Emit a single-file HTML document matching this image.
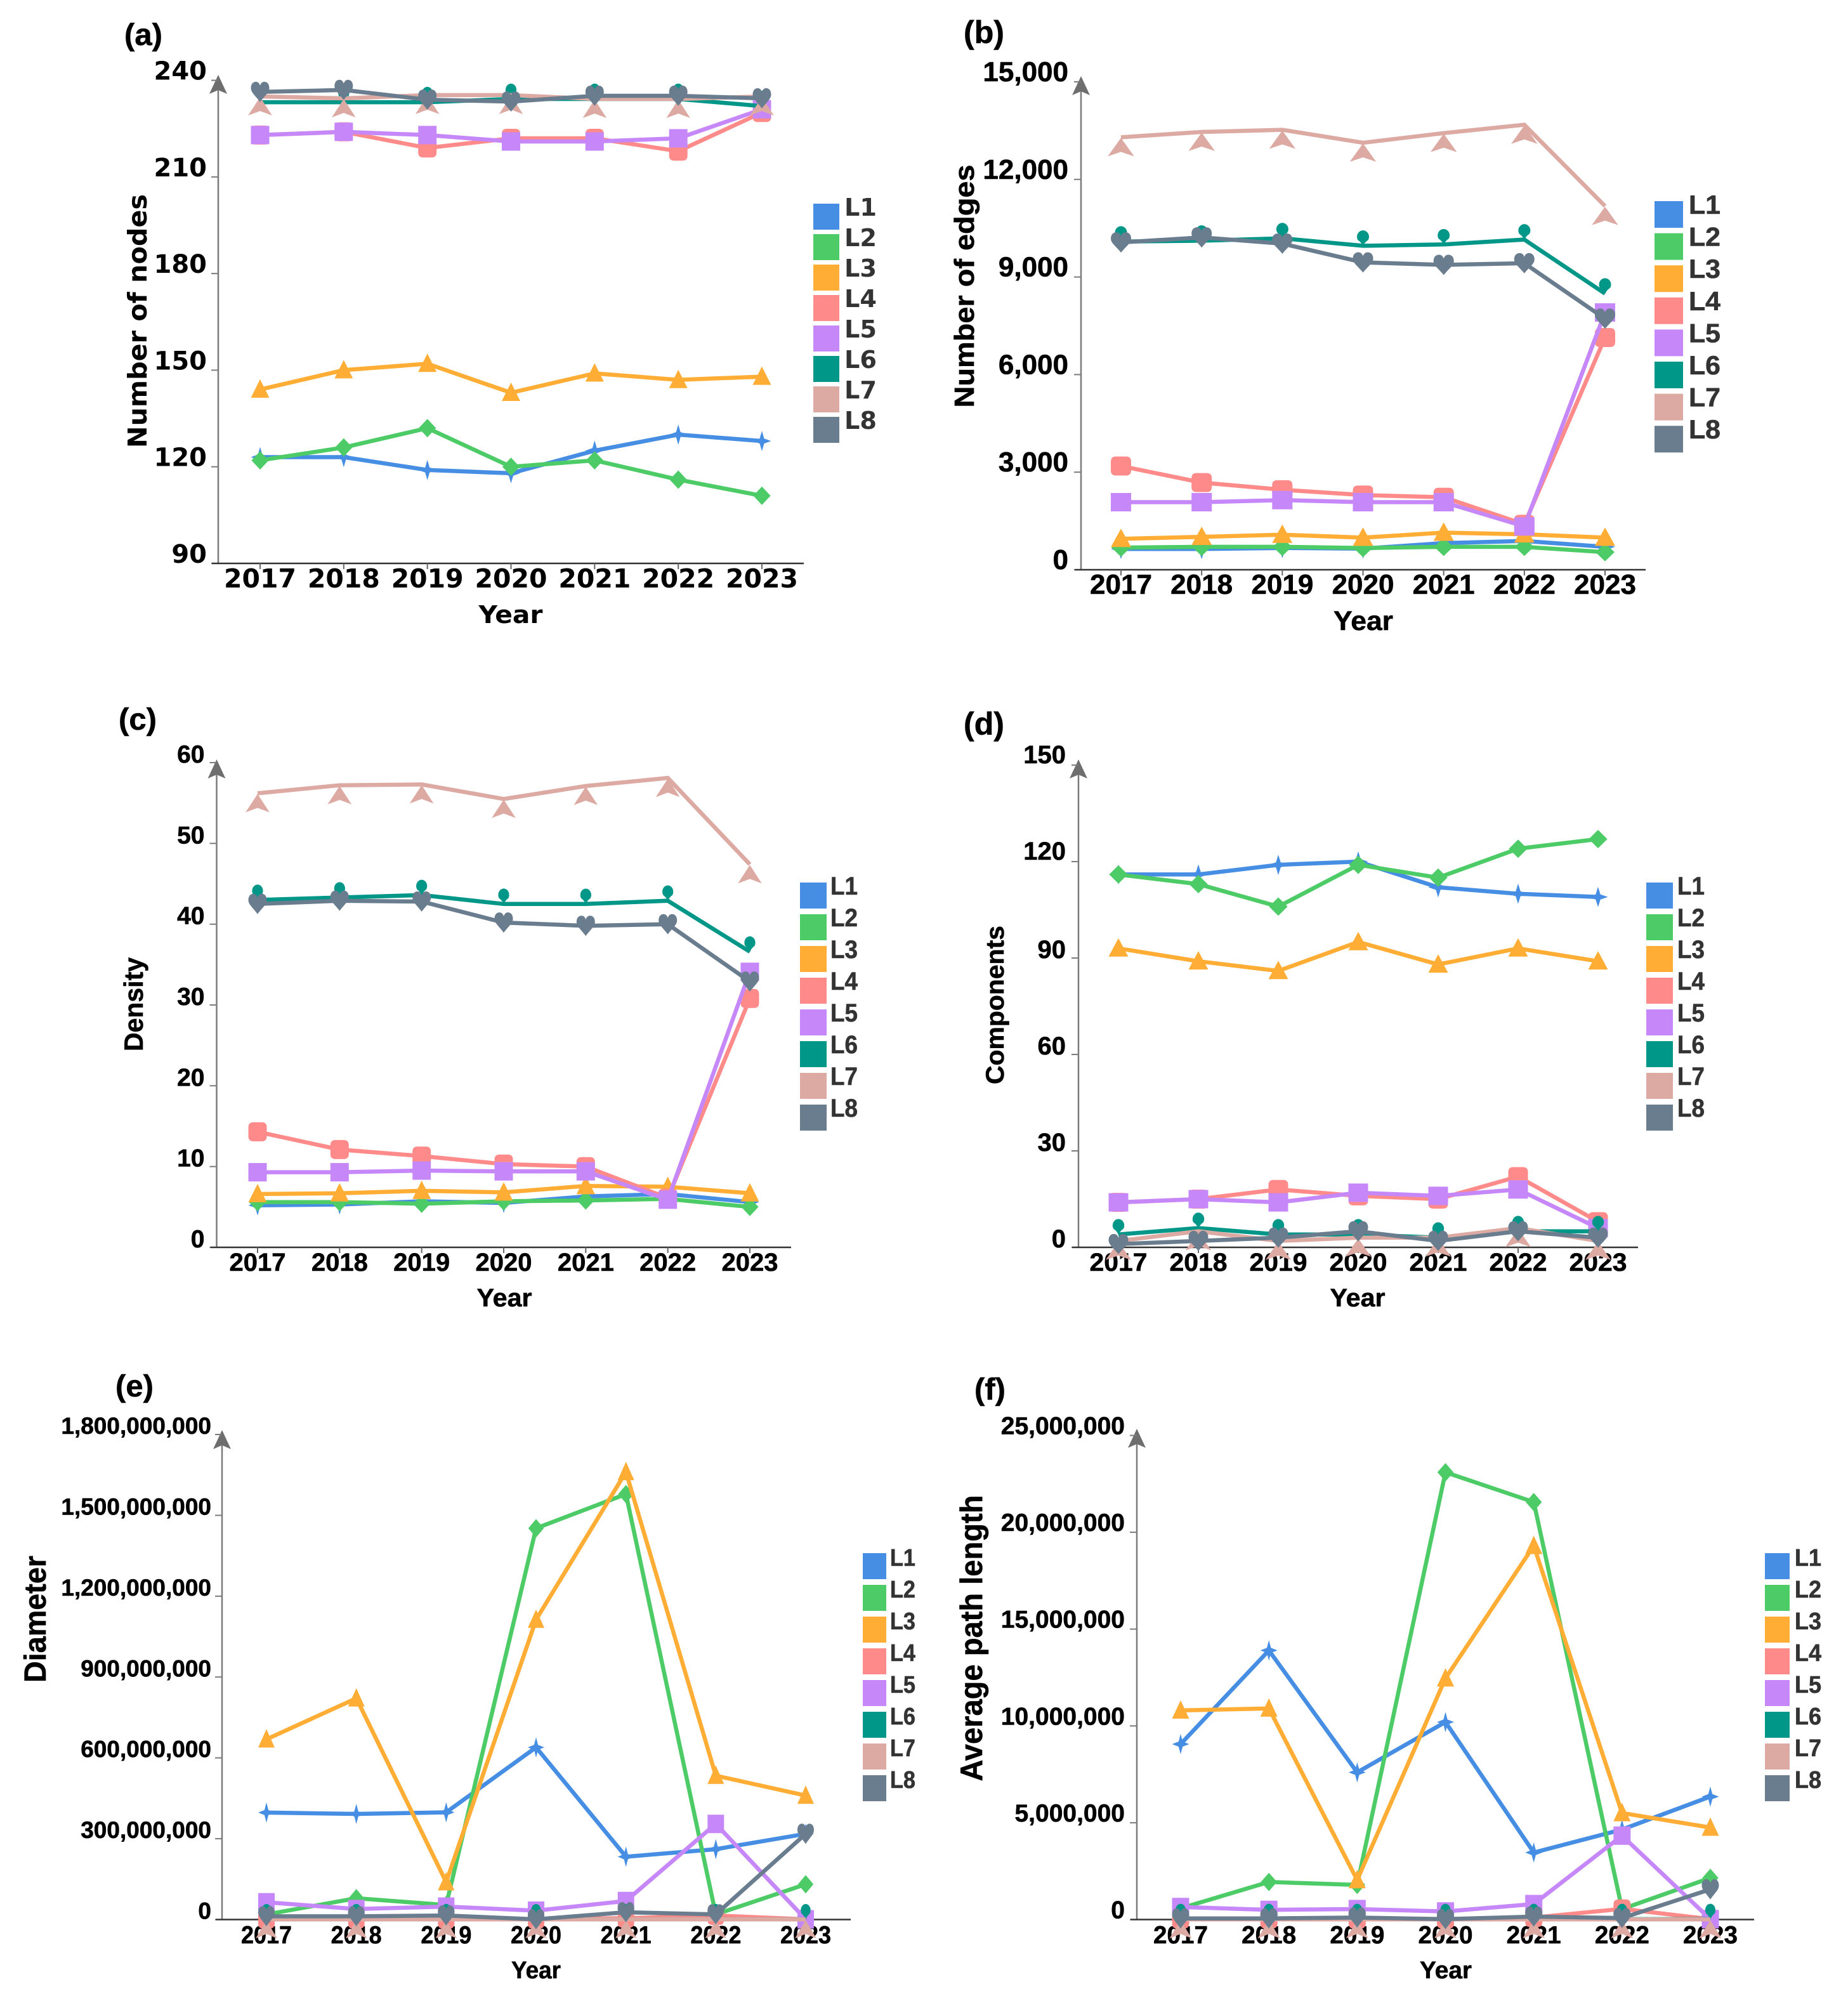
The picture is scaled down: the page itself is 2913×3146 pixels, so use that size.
<!DOCTYPE html>
<html lang="en">
<head>
<meta charset="utf-8">
<title>Network metrics by layer, 2017–2023</title>
<style>
  html, body { margin: 0; padding: 0; background: #fff; }
  svg { display: block; }
  .dj { font-family: "DejaVu Sans", sans-serif; font-weight: 700; }
  .lb { font-family: "Liberation Sans", sans-serif; font-weight: 700; stroke: #000; stroke-width: 0.6; }
  .lb.legend-text { stroke: #333; }
</style>
</head>
<body>
<svg id="figure" xmlns="http://www.w3.org/2000/svg" width="2913" height="3146" viewBox="0 0 2913 3146">
  <rect x="0" y="0" width="2913" height="3146" fill="#ffffff"/>

  <g id="panel-a">
    <text class="lb" x="196" y="71" font-size="48" textLength="60" lengthAdjust="spacingAndGlyphs">(a)</text>
    <text class="dj" font-size="41" text-anchor="middle" transform="translate(231 506) rotate(-90)" textLength="400" lengthAdjust="spacingAndGlyphs">Number of nodes</text>
    <text class="dj" x="805" y="982" font-size="38" text-anchor="middle" textLength="101" lengthAdjust="spacingAndGlyphs">Year</text>
  </g>
  <g id="panel-b">
    <text class="lb" x="1519" y="68" font-size="50" textLength="64" lengthAdjust="spacingAndGlyphs">(b)</text>
    <text class="lb" font-size="44" text-anchor="middle" transform="translate(1535 451) rotate(-90)" textLength="383" lengthAdjust="spacingAndGlyphs">Number of edges</text>
    <text class="lb" x="2149" y="993" font-size="43" text-anchor="middle" textLength="94" lengthAdjust="spacingAndGlyphs">Year</text>
  </g>
  <g id="panel-c">
    <text class="lb" x="187" y="1150" font-size="48" textLength="60" lengthAdjust="spacingAndGlyphs">(c)</text>
    <text class="lb" font-size="42" text-anchor="middle" transform="translate(225 1583) rotate(-90)" textLength="148" lengthAdjust="spacingAndGlyphs">Density</text>
    <text class="lb" x="795" y="2059" font-size="40" text-anchor="middle" textLength="87" lengthAdjust="spacingAndGlyphs">Year</text>
  </g>
  <g id="panel-d">
    <text class="lb" x="1519" y="1158" font-size="50" textLength="64" lengthAdjust="spacingAndGlyphs">(d)</text>
    <text class="lb" font-size="40" text-anchor="middle" transform="translate(1582 1584) rotate(-90)" textLength="250" lengthAdjust="spacingAndGlyphs">Components</text>
    <text class="lb" x="2140" y="2059" font-size="40" text-anchor="middle" textLength="87" lengthAdjust="spacingAndGlyphs">Year</text>
  </g>
  <g id="panel-e">
    <text class="lb" x="182" y="2201" font-size="48" textLength="60" lengthAdjust="spacingAndGlyphs">(e)</text>
    <text class="lb" font-size="48" text-anchor="middle" transform="translate(72 2552) rotate(-90)" textLength="200" lengthAdjust="spacingAndGlyphs">Diameter</text>
    <text class="lb" x="845" y="3118" font-size="38" text-anchor="middle" textLength="78" lengthAdjust="spacingAndGlyphs">Year</text>
  </g>
  <g id="panel-f">
    <text class="lb" x="1536" y="2206" font-size="48" textLength="49" lengthAdjust="spacingAndGlyphs">(f)</text>
    <text class="lb" font-size="49" text-anchor="middle" transform="translate(1548 2582) rotate(-90)" textLength="451" lengthAdjust="spacingAndGlyphs">Average path length</text>
    <text class="lb" x="2279" y="3118" font-size="38" text-anchor="middle" textLength="82" lengthAdjust="spacingAndGlyphs">Year</text>
  </g>
</svg>

<script>
// ---- shared categories ----
const years = ["2017", "2018", "2019", "2020", "2021", "2022", "2023"];
const layerNames = ["L1", "L2", "L3", "L4", "L5", "L6", "L7", "L8"];

// ---- (a) number of nodes ----
const nodeTicks = [90, 120, 150, 180, 210, 240];
const nodesL1 = [123, 123, 119, 118, 125, 130, 128];
const nodesL2 = [122, 126, 132, 120, 122, 116, 111];
const nodesL3 = [144, 150, 152, 143, 149, 147, 148];
const nodesL4 = [223, 224, 219, 222, 222, 218, 230];
const nodesL5 = [223, 224, 223, 221, 221, 222, 231];
const nodesL6 = [233.2, 233.2, 233.2, 234.2, 234.2, 234.2, 232];
const nodesL7 = [235, 234.4, 235.4, 235.4, 234.2, 234.2, 235];
const nodesL8 = [236.4, 237, 234, 233.4, 235.2, 235.2, 234.4];

// ---- (b) number of edges ----
const edgeTicks = [0, 3000, 6000, 9000, 12000, 15000];
const edgesL1 = [640, 640, 670, 650, 820, 885, 705];
const edgesL2 = [680, 705, 705, 667, 705, 705, 540];
const edgesL3 = [950, 1013, 1077, 987, 1141, 1090, 987];
const edgesL4 = [3190, 2680, 2460, 2295, 2230, 1397, 7140];
const edgesL5 = [2077, 2077, 2141, 2077, 2077, 1333, 7910];
const edgesL6 = [10090, 10115, 10190, 9960, 10000, 10150, 8490];
const edgesL7 = [13295, 13460, 13526, 13128, 13423, 13680, 11180];
const edgesL8 = [10064, 10218, 10026, 9449, 9372, 9423, 7718];

// ---- (c) density ----
const densityTicks = [0, 10, 20, 30, 40, 50, 60];
const densityL1 = [5.2, 5.3, 5.7, 5.5, 6.3, 6.6, 5.6];
const densityL2 = [5.6, 5.6, 5.4, 5.7, 5.8, 6.0, 5.0];
const densityL3 = [6.6, 6.7, 7.0, 6.8, 7.6, 7.5, 6.7];
const densityL4 = [14.3, 12.1, 11.3, 10.3, 10.0, 6.1, 30.8];
const densityL5 = [9.3, 9.3, 9.5, 9.4, 9.4, 5.9, 34.1];
const densityL6 = [43.0, 43.3, 43.6, 42.5, 42.5, 42.9, 36.6];
const densityL7 = [56.2, 57.2, 57.3, 55.5, 57.1, 58.1, 47.4];
const densityL8 = [42.5, 42.9, 42.8, 40.2, 39.8, 40.0, 32.9];

// ---- (d) components ----
const componentTicks = [0, 30, 60, 90, 120, 150];
const componentsL1 = [116, 116, 119, 120, 112, 110, 109];
const componentsL2 = [116, 113, 106, 119, 115, 124, 127];
const componentsL3 = [93, 89, 86, 95, 88, 93, 89];
const componentsL4 = [14, 15, 18, 16, 15, 22, 8];
const componentsL5 = [14, 15, 14, 17, 16, 18, 6];
const componentsL6 = [4, 6, 4, 4, 3, 5, 5];
const componentsL7 = [2, 5, 2, 3, 3, 6, 2];
const componentsL8 = [1, 2, 3, 5, 2, 5, 3];

// ---- (e) diameter ----
const diameterTicks = [0, 300000000, 600000000, 900000000, 1200000000, 1500000000, 1800000000];
const diameterL1 = [397000000, 392000000, 398000000, 639000000, 233000000, 261000000, 318000000];
const diameterL2 = [19000000, 79000000, 54000000, 1452000000, 1579000000, 19000000, 131000000];
const diameterL3 = [669000000, 821000000, 139000000, 1113000000, 1661000000, 534000000, 460000000];
const diameterL4 = [2000000, 2000000, 2000000, 2000000, 5000000, 15000000, 1000000];
const diameterL5 = [64000000, 39000000, 48000000, 33000000, 69000000, 355000000, 1000000];
const diameterL6 = [1000000, 1000000, 1000000, 1000000, 1000000, 1000000, 1000000];
const diameterL7 = [500000, 500000, 500000, 500000, 500000, 500000, 500000];
const diameterL8 = [12000000, 12000000, 15000000, 1000000, 27000000, 19000000, 318000000];

// ---- (f) average path length ----
const pathTicks = [0, 5000000, 10000000, 15000000, 20000000, 25000000];
const pathL1 = [9060000, 13900000, 7600000, 10200000, 3460000, 4650000, 6350000];
const pathL2 = [580000, 1940000, 1790000, 23100000, 21560000, 540000, 2150000];
const pathL3 = [10800000, 10900000, 2040000, 12460000, 19300000, 5500000, 4750000];
const pathL4 = [30000, 30000, 30000, 30000, 100000, 550000, 20000];
const pathL5 = [650000, 500000, 540000, 420000, 800000, 4330000, 20000];
const pathL6 = [20000, 20000, 20000, 20000, 20000, 20000, 20000];
const pathL7 = [10000, 10000, 10000, 10000, 10000, 10000, 10000];
const pathL8 = [60000, 60000, 100000, 20000, 150000, 80000, 1560000];

// ---- drawing ----
const SVG_NS = "http://www.w3.org/2000/svg";
const layerColors = ["#468ee3", "#4ccb66", "#ffad35", "#ff8a8a", "#c688f9", "#009688", "#dcaaa2", "#6a7d8f"];
const layerSymbols = ["star", "diamond", "triangle", "roundRect", "rect", "pin", "arrow", "heart"];

const panels = [
  { id: "a", fontClass: "dj", series: [nodesL1, nodesL2, nodesL3, nodesL4, nodesL5, nodesL6, nodesL7, nodesL8], ticks: nodeTicks,
    axisX: 344, baseY: 888, topY: 126.6, firstX: 410, lastX: 1201, endX: 1267, arrowTip: 118,
    xLabelY: 926, xLabelSize: 41, xLabelLen: 114, yLabelRight: 326, yLabelSize: 40, yLabelShift: -1, yLabelTopShift: -1, markW: 29,
    legendX: 1282, legendW: 41, legendY: 321, legendH: 41, legendStep: 48, legendTextX: 1331, legendTextY: 340, legendSize: 38, legendLen: 51 },
  { id: "b", fontClass: "lb", series: [edgesL1, edgesL2, edgesL3, edgesL4, edgesL5, edgesL6, edgesL7, edgesL8], ticks: edgeTicks,
    axisX: 1704, baseY: 898, topY: 129, firstX: 1767, lastX: 2530, endX: 2594, arrowTip: 120,
    xLabelY: 936, xLabelSize: 44, xLabelLen: 98, yLabelRight: 1684, yLabelSize: 44, yLabelShift: -1, yLabelTopShift: -1, markW: 32,
    legendX: 2608, legendW: 45, legendY: 317, legendH: 42, legendStep: 50.6, legendTextX: 2662, legendTextY: 337, legendSize: 42, legendLen: 50 },
  { id: "c", fontClass: "lb", series: [densityL1, densityL2, densityL3, densityL4, densityL5, densityL6, densityL7, densityL8], ticks: densityTicks,
    axisX: 341.5, baseY: 1966, topY: 1202, firstX: 406, lastX: 1182, endX: 1247, arrowTip: 1197,
    xLabelY: 2003, xLabelSize: 40, xLabelLen: 89, yLabelRight: 322.5, yLabelSize: 39, yLabelShift: 0, yLabelTopShift: 0, markW: 29,
    legendX: 1261, legendW: 42, legendY: 1391, legendH: 41, legendStep: 50, legendTextX: 1309, legendTextY: 1410, legendSize: 40, legendLen: 43 },
  { id: "d", fontClass: "lb", series: [componentsL1, componentsL2, componentsL3, componentsL4, componentsL5, componentsL6, componentsL7, componentsL8], ticks: componentTicks,
    axisX: 1700, baseY: 1966, topY: 1206, firstX: 1763, lastX: 2519, endX: 2582, arrowTip: 1197,
    xLabelY: 2003, xLabelSize: 40, xLabelLen: 91, yLabelRight: 1680, yLabelSize: 40, yLabelShift: 0, yLabelTopShift: -3, markW: 31,
    legendX: 2595, legendW: 42, legendY: 1391, legendH: 41, legendStep: 50, legendTextX: 2644, legendTextY: 1410, legendSize: 40, legendLen: 43 },
  { id: "e", fontClass: "lb", series: [diameterL1, diameterL2, diameterL3, diameterL4, diameterL5, diameterL6, diameterL7, diameterL8], ticks: diameterTicks,
    axisX: 350, baseY: 3025.5, topY: 2261, firstX: 420, lastX: 1270, endX: 1341, arrowTip: 2254,
    xLabelY: 3063, xLabelSize: 39, xLabelLen: 80, yLabelRight: 333, yLabelSize: 37, yLabelShift: -1, yLabelTopShift: -1, markW: 26,
    legendX: 1360, legendW: 37, legendY: 2448, legendH: 41, legendStep: 50, legendTextX: 1403, legendTextY: 2468, legendSize: 38, legendLen: 40 },
  { id: "f", fontClass: "lb", series: [pathL1, pathL2, pathL3, pathL4, pathL5, pathL6, pathL7, pathL8], ticks: pathTicks,
    axisX: 1792, baseY: 3025.5, topY: 2262.5, firstX: 1861, lastX: 2696, endX: 2765, arrowTip: 2252,
    xLabelY: 3063, xLabelSize: 39, xLabelLen: 86, yLabelRight: 1773, yLabelSize: 39, yLabelShift: -2, yLabelTopShift: -2, markW: 27,
    legendX: 2782, legendW: 39, legendY: 2448, legendH: 41, legendStep: 50, legendTextX: 2829, legendTextY: 2468, legendSize: 38, legendLen: 42 }
];

function make(tag, attrs, parent) {
  const node = document.createElementNS(SVG_NS, tag);
  for (const key in attrs) node.setAttribute(key, attrs[key]);
  parent.appendChild(node);
  return node;
}

function xScale(p, i) {
  return p.firstX + (p.lastX - p.firstX) * i / (years.length - 1);
}

function yScale(p, v) {
  const lo = p.ticks[0];
  const hi = p.ticks[p.ticks.length - 1];
  return p.baseY - (v - lo) / (hi - lo) * (p.baseY - p.topY);
}

function symbolPath(kind, x, y, W) {
  const H = 29;
  const f = n => n.toFixed(1);
  const poly = pts => "M" + pts.map(q => f(q[0]) + "," + f(q[1])).join(" L") + " Z";
  if (kind === "star") {
    const w = W * 0.5, h = 16, a = W * 0.12, b = 4;
    return poly([[x, y - h], [x + a, y - b], [x + w, y], [x + a, y + b], [x, y + h], [x - a, y + b], [x - w, y], [x - a, y - b]]);
  }
  if (kind === "diamond") {
    const w = W * 0.47;
    return poly([[x, y - 14.5], [x + w, y], [x, y + 14.5], [x - w, y]]);
  }
  if (kind === "triangle") {
    return poly([[x, y - 16], [x + W / 2, y + 13], [x - W / 2, y + 13]]);
  }
  if (kind === "rect") {
    return poly([[x - W / 2, y - H / 2], [x + W / 2, y - H / 2], [x + W / 2, y + H / 2], [x - W / 2, y + H / 2]]);
  }
  if (kind === "roundRect") {
    const l = x - W / 2, r = x + W / 2, t = y - 15, u = y + 15, c = 8;
    return "M" + f(l + c) + "," + f(t) + " L" + f(r - c) + "," + f(t) + " Q" + f(r) + "," + f(t) + " " + f(r) + "," + f(t + c) +
      " L" + f(r) + "," + f(u - c) + " Q" + f(r) + "," + f(u) + " " + f(r - c) + "," + f(u) +
      " L" + f(l + c) + "," + f(u) + " Q" + f(l) + "," + f(u) + " " + f(l) + "," + f(u - c) +
      " L" + f(l) + "," + f(t + c) + " Q" + f(l) + "," + f(t) + " " + f(l + c) + "," + f(t) + " Z";
  }
  if (kind === "pin") {
    const rx = 9.5 * W / 32;
    return "M" + f(x) + "," + f(y + 1) + " Q" + f(x - rx * 0.2) + "," + f(y - 5) + " " + f(x - rx * 0.85) + "," + f(y - 9) +
      " A" + f(rx) + " 10 0 1 1 " + f(x + rx * 0.85) + "," + f(y - 9) + " Q" + f(x + rx * 0.2) + "," + f(y - 5) + " " + f(x) + "," + f(y + 1) + " Z";
  }
  if (kind === "arrow") {
    const w = W * 0.65;
    return poly([[x, y + 1], [x + w, y + 30], [x, y + 23], [x - w, y + 30]]);
  }
  // heart
  const w = W / 2;
  return "M" + f(x) + "," + f(y + 16) +
    " C" + f(x - w * 0.5) + "," + f(y + 6) + " " + f(x - w) + "," + f(y + 1) + " " + f(x - w) + "," + f(y - 6) +
    " C" + f(x - w) + "," + f(y - 12) + " " + f(x - w * 0.8) + "," + f(y - 16) + " " + f(x - w * 0.45) + "," + f(y - 16) +
    " C" + f(x - w * 0.25) + "," + f(y - 16) + " " + f(x - w * 0.08) + "," + f(y - 14) + " " + f(x) + "," + f(y - 10) +
    " C" + f(x + w * 0.08) + "," + f(y - 14) + " " + f(x + w * 0.25) + "," + f(y - 16) + " " + f(x + w * 0.45) + "," + f(y - 16) +
    " C" + f(x + w * 0.8) + "," + f(y - 16) + " " + f(x + w) + "," + f(y - 12) + " " + f(x + w) + "," + f(y - 6) +
    " C" + f(x + w) + "," + f(y + 1) + " " + f(x + w * 0.5) + "," + f(y + 6) + " " + f(x) + "," + f(y + 16) + " Z";
}

function drawAxes(p, root) {
  // y axis
  const yAxis = make("line", { x1: p.axisX, x2: p.axisX, y1: p.baseY, y2: p.arrowTip + 20, stroke: "#7b7b7b", "stroke-width": 2.5 }, root);
  
  

  const head = make("path", {
    d: "M" + p.axisX + "," + p.arrowTip + " L" + (p.axisX + 14) + "," + (p.arrowTip + 30) + " L" + p.axisX + "," + (p.arrowTip + 24) + " L" + (p.axisX - 14) + "," + (p.arrowTip + 30) + " Z",
    fill: "#6e6e6e"
  }, root);
  
  

  p.ticks.forEach((t, n) => {
    const y = yScale(p, t);
    const mark = make("line", { x1: p.axisX - 11, x2: p.axisX, y1: y, y2: y, stroke: "#7b7b7b", "stroke-width": 2 }, root);
    
    

    const shift = n >= p.ticks.length - 2 ? p.yLabelTopShift : p.yLabelShift;
    const label = make("text", { x: p.yLabelRight, y: y + shift, "text-anchor": "end", "font-size": p.yLabelSize, class: p.fontClass, fill: "#000" }, root);
    
    
    label.textContent = t.toLocaleString("en-US");
  });

  // x axis
  const xAxis = make("line", { x1: p.axisX - 10, x2: p.endX, y1: p.baseY, y2: p.baseY, stroke: "#333", "stroke-width": 2.5 }, root);
  
  

  years.forEach((yr, i) => {
    const x = xScale(p, i);
    const mark = make("line", { x1: x, x2: x, y1: p.baseY, y2: p.baseY + 9, stroke: "#666", "stroke-width": 2 }, root);
    
    

    const label = make("text", { x: x, y: p.xLabelY, "text-anchor": "middle", "font-size": p.xLabelSize, class: p.fontClass, fill: "#000", textLength: p.xLabelLen, lengthAdjust: "spacingAndGlyphs" }, root);
    
    
    label.textContent = yr;
  });
}

function drawSeries(p, root) {
  p.series.forEach((values, s) => {
    const group = make("g", {}, root);
    
    

    const points = values.map((v, i) => xScale(p, i).toFixed(1) + "," + yScale(p, v).toFixed(1)).join(" ");
    const line = make("polyline", { points: points, fill: "none", stroke: layerColors[s], "stroke-width": 6.5, "stroke-linejoin": "miter" }, group);
    
    

    values.forEach((v, i) => {
      const marker = make("path", { d: symbolPath(layerSymbols[s], xScale(p, i), yScale(p, v), p.markW), fill: layerColors[s] }, group);
      
      
    });
  });
}

function drawLegend(p, root) {
  const legend = make("g", {}, root);
  
  

  layerNames.forEach((name, s) => {
    const entry = make("g", {}, legend);
    
    

    const swatch = make("rect", { x: p.legendX, y: p.legendY + s * p.legendStep, width: p.legendW, height: p.legendH, fill: layerColors[s] }, entry);
    
    

    const label = make("text", { x: p.legendTextX, y: p.legendTextY + s * p.legendStep, "font-size": p.legendSize, class: p.fontClass + " legend-text", fill: "#333", textLength: p.legendLen, lengthAdjust: "spacingAndGlyphs" }, entry);
    
    
    label.textContent = name;
  });
}

panels.forEach(p => {
  const root = document.getElementById("panel-" + p.id);
  drawAxes(p, root);
  drawSeries(p, root);
  drawLegend(p, root);
});
</script>
</body>
</html>
